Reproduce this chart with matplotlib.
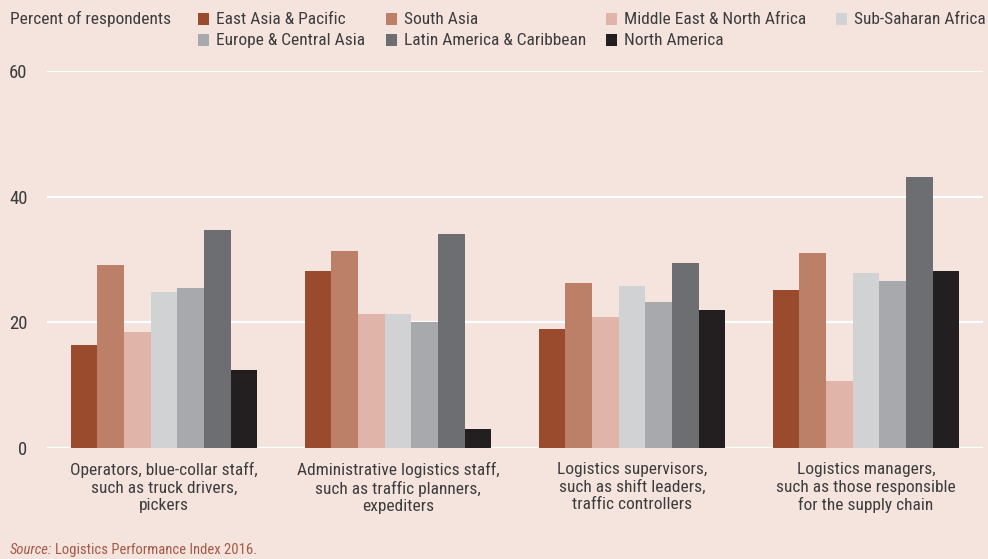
import matplotlib
matplotlib.use("Agg")
import matplotlib.pyplot as plt
import numpy as np
from matplotlib.patches import Rectangle

categories = [
    "Operators, blue-collar staff,\nsuch as truck drivers,\npickers",
    "Administrative logistics staff,\nsuch as traffic planners,\nexpediters",
    "Logistics supervisors,\nsuch as shift leaders,\ntraffic controllers",
    "Logistics managers,\nsuch as those responsible\nfor the supply chain",
]
series = ["East Asia & Pacific", "South Asia", "Middle East & North Africa",
          "Sub-Saharan Africa", "Europe & Central Asia",
          "Latin America & Caribbean", "North America"]
east_asia = [16.4, 28.1, 18.9, 25.2]
south_asia = [29.2, 31.3, 26.2, 31.0]
mena = [18.5, 21.4, 20.9, 10.6]
ssa = [24.9, 21.4, 25.8, 27.8]
eca = [25.5, 20.1, 23.3, 26.6]
lac = [34.7, 34.1, 29.5, 43.2]
north_america = [12.4, 3.1, 21.9, 28.1]
yticks = [0, 20, 40, 60]

values = [east_asia, south_asia, mena, ssa, eca, lac, north_america]
colors = ["#9A4A2D", "#BC7F68", "#E0B4A8", "#D1D2D4", "#A7A9AC", "#6D6E71", "#231F20"]
bg = "#F5E3DE"
txt = "#3C3C3C"
fam = ["Roboto Condensed", "DejaVu Sans"]
fs = 12.5

fig = plt.figure(figsize=(9.88, 5.59), dpi=100, facecolor=bg)
ax = fig.add_axes([47/988, 1-448/559, 936/988, (448-71)/559])
ax.set_facecolor(bg)

x = np.arange(len(categories))
w = 0.114
n = len(series)
for i, (vals, c) in enumerate(zip(values, colors)):
    ax.bar(x + (i - (n-1)/2) * w, vals, width=w, color=c, zorder=3, linewidth=0)

ax.set_xlim(-0.5, 3.5)
ax.set_ylim(0, 60)
ax.set_yticks(yticks)
ax.set_yticklabels([str(t) for t in yticks], fontsize=13.5, color=txt, family=fam)
ax.set_xticks(x)
ax.set_xticklabels(categories, fontsize=fs, color=txt, family=fam, linespacing=1.22)
ax.tick_params(axis="both", length=0)
ax.tick_params(axis="y", pad=14)
ax.tick_params(axis="x", pad=10)
for s in ax.spines.values():
    s.set_visible(False)
ax.grid(axis="y", color="white", linewidth=1.6, zorder=1)
ax.set_axisbelow(True)

# Legend / header
fig.text(10/988, 1-19/559, "Percent of respondents", fontsize=fs, color=txt,
         family=fam, va="center", ha="left")
col_x = [198, 386, 606, 836]
row_y = [19, 40]
for i, name in enumerate(series):
    cx = col_x[i % 4]
    cy = row_y[i // 4]
    fig.patches.append(Rectangle((cx/988, 1-(cy+5.5)/559), 11/988, 11/559,
                                 transform=fig.transFigure, facecolor=colors[i],
                                 edgecolor="none"))
    fig.text((cx+18)/988, 1-(cy+0.5)/559, name, fontsize=fs, color=txt, family=fam,
             va="center", ha="left")

t1 = fig.text(10/988, 1-550/559, "Source:", fontsize=10.5, color="#A65A45",
              family=fam, style="italic", va="center", ha="left")
fig.canvas.draw()
bb = t1.get_window_extent()
fig.text((bb.x1 + 3)/988, 1-550/559, "Logistics Performance Index 2016.", fontsize=10.5,
         color="#A65A45", family=fam, va="center", ha="left")

fig.savefig("out.png", dpi=100, facecolor=bg)
